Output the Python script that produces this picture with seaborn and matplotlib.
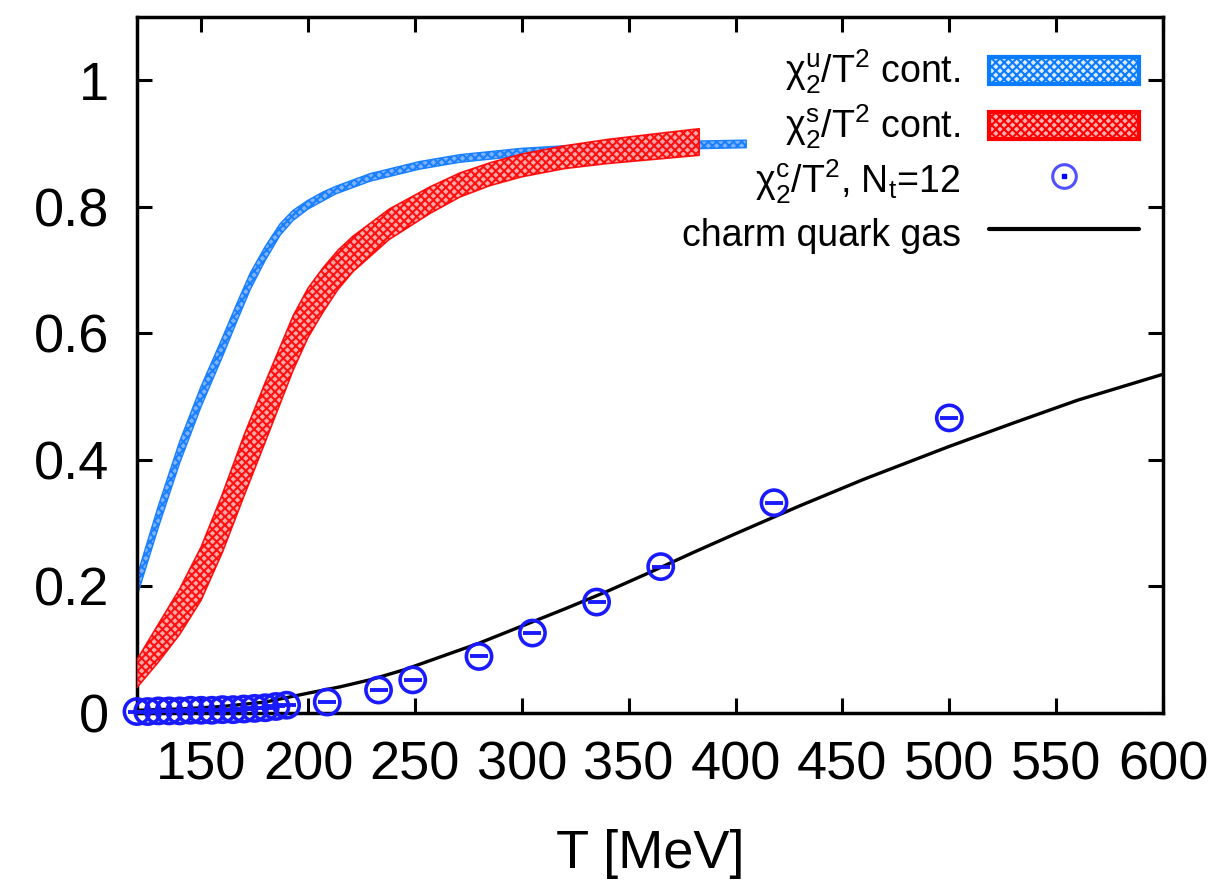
import matplotlib
matplotlib.use('Agg')
import matplotlib.pyplot as plt
from matplotlib.lines import Line2D
from matplotlib.patches import Patch, Rectangle
from matplotlib.legend_handler import HandlerPatch
import seaborn as sns
import numpy as np
import pandas as pd

# chi_2^u / T^2 continuum band (centre and half width)
T_u = [120, 130, 140, 150, 160, 167, 173, 180, 187, 193, 200, 207, 213, 229, 252, 271, 300, 325, 350, 375, 405]
chi_u = [0.20, 0.31, 0.412, 0.50, 0.578, 0.635, 0.682, 0.726, 0.764, 0.786, 0.803, 0.816, 0.826, 0.846, 0.865, 0.876, 0.886, 0.891, 0.894, 0.897, 0.899]
err_u = [0.016, 0.017, 0.017, 0.016, 0.015, 0.014, 0.013, 0.011, 0.009, 0.008, 0.007, 0.007, 0.006, 0.006, 0.006, 0.006, 0.006, 0.006, 0.006, 0.006, 0.006]

# chi_2^s / T^2 continuum band
T_s = [120, 130, 140, 150, 160, 170, 180, 193, 200, 207, 214, 221, 238, 257, 271, 285, 300, 320, 340, 360, 383]
chi_s = [0.062, 0.11, 0.16, 0.22, 0.30, 0.39, 0.475, 0.584, 0.632, 0.668, 0.700, 0.725, 0.772, 0.810, 0.834, 0.851, 0.865, 0.878, 0.887, 0.894, 0.902]
err_s = [0.022, 0.03, 0.036, 0.042, 0.046, 0.048, 0.047, 0.043, 0.039, 0.035, 0.031, 0.028, 0.024, 0.021, 0.019, 0.018, 0.018, 0.018, 0.019, 0.02, 0.021]

# chi_2^c / T^2, N_t = 12 lattice points
T_c = [120, 125, 130, 135, 140, 145, 150, 155, 160, 165, 170, 175, 180, 185, 190,
       209, 233, 249, 280, 305, 335, 365, 418, 500]
chi_c = [0.002, 0.002, 0.003, 0.003, 0.003, 0.004, 0.004, 0.004, 0.005, 0.005, 0.006, 0.007, 0.008, 0.010, 0.012,
         0.017, 0.036, 0.052, 0.089, 0.126, 0.175, 0.231, 0.332, 0.466]

# charm quark gas
T_gas = [120, 140, 160, 180, 200, 215, 230, 245, 260, 280, 300, 320, 340, 360, 380, 400, 430, 460, 500, 530, 560, 600]
chi_gas = [0.004, 0.006, 0.010, 0.017, 0.031, 0.041, 0.053, 0.068, 0.086, 0.11, 0.137, 0.164, 0.192, 0.222, 0.253, 0.283,
           0.327, 0.369, 0.421, 0.458, 0.494, 0.535]

sns.set_style('ticks')
plt.rcParams['font.family'] = ['Liberation Sans', 'DejaVu Sans']
plt.rcParams['mathtext.fontset'] = 'custom'
plt.rcParams['mathtext.rm'] = 'Liberation Sans'
plt.rcParams['mathtext.it'] = 'Liberation Sans:italic'
plt.rcParams['hatch.linewidth'] = 1.5
for key in ['text.color', 'axes.labelcolor', 'xtick.color', 'ytick.color']:
    plt.rcParams[key] = 'black'

fig = plt.figure(figsize=(12.23, 8.8), dpi=100)
ax = fig.add_axes([0.112, 0.19, 0.839, 0.791])

u_lo = np.array(chi_u) - np.array(err_u)
u_hi = np.array(chi_u) + np.array(err_u)
ax.fill_between(T_u, u_lo, u_hi, facecolor='#7fb3ff', edgecolor='#1a80ff', hatch='xxxx', linewidth=1.0, zorder=2)

s_lo = np.array(chi_s) - np.array(err_s)
s_hi = np.array(chi_s) + np.array(err_s)
ax.fill_between(T_s, s_lo, s_hi, facecolor='#ffa0a0', edgecolor='#ff0000', hatch='xxxx', linewidth=1.2, alpha=0.9, zorder=3)

gas = pd.DataFrame({'T': T_gas, 'chi': chi_gas})
sns.lineplot(data=gas, x='T', y='chi', color='black', linewidth=2.4, ax=ax, zorder=4)

pts = pd.DataFrame({'T': T_c, 'chi': chi_c})
sns.scatterplot(data=pts, x='T', y='chi', marker='o', s=330, facecolors='none',
                edgecolor='#1a1aff', linewidth=2.6, ax=ax, zorder=5, clip_on=False)
ax.plot(T_c, chi_c, linestyle='none', marker='_', markersize=13, markeredgewidth=2.8,
        color='#1a1aff', zorder=5, clip_on=False)

ax.set_xlim(120, 600)
ax.set_ylim(0, 1.1)
ax.set_xticks(np.arange(150, 601, 50))
ax.set_yticks([0, 0.2, 0.4, 0.6, 0.8, 1])
ax.set_yticklabels(['0', '0.2', '0.4', '0.6', '0.8', '1'])
ax.tick_params(direction='in', length=11, width=2.2, labelsize=39, pad=20,
               top=True, right=True)
for sp in ax.spines.values():
    sp.set_linewidth(2.5)
    sp.set_color('black')

ax.set_xlabel('T [MeV]', fontsize=39, labelpad=28)
ax.set_ylabel('')


def band_handle(legend, orig_handle, xdescent, ydescent, width, height, fontsize):
    h = 0.72 * fontsize
    return Rectangle((-xdescent, -ydescent + (height - h) / 2), width, h)


handles = [
    Patch(facecolor='#dce9ff', edgecolor='#0a7cff', hatch='xxxx', linewidth=3),
    Patch(facecolor='#ffb0b0', edgecolor='#ff0000', hatch='xxxx', linewidth=3),
    (Line2D([], [], linestyle='none', marker='o', markersize=17, markerfacecolor='none',
            markeredgecolor='#5050ff', markeredgewidth=2.2),
     Line2D([], [], linestyle='none', marker='s', markersize=3, color='#0000ff')),
    Line2D([], [], color='black', linewidth=3),
]
labels = [r'χ${}_2^{\mathrm{u}}$/T$^2$ cont.', r'χ${}_2^{\mathrm{s}}$/T$^2$ cont.',
          r'χ${}_2^{\mathrm{c}}$/T$^2$, N$_{\mathrm{t}}$=12', 'charm quark gas']
ax.legend(handles, labels, loc='upper right', bbox_to_anchor=(0.991, 0.977), frameon=False,
          markerfirst=False, fontsize=27, handlelength=4.0, handleheight=1.35,
          handletextpad=0.75, labelspacing=0.18, borderaxespad=0,
          handler_map={Patch: HandlerPatch(patch_func=band_handle)})

fig.savefig('out.png', dpi=100)
